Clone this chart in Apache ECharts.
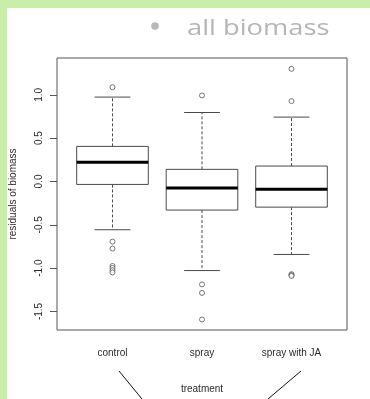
<!DOCTYPE html>
<html>
<head>
<meta charset="utf-8">
<script src="https://cdn.jsdelivr.net/npm/echarts@6/dist/echarts.min.js"></script>
<style>
html,body{margin:0;padding:0;background:#fff;}
#c{width:370px;height:399px;}
</style>
</head>
<body>
<div id="c"></div>
<script>
const categories = ['control', 'spray', 'spray with JA'];
const lowerWhisker = [-0.557, -1.028, -0.842];
const q1 = [-0.034, -0.330, -0.296];
const median = [0.223, -0.076, -0.091];
const q3 = [0.405, 0.140, 0.178];
const upperWhisker = [0.974, 0.796, 0.743];
const outliersControl = [1.088, -0.694, -0.774, -0.975, -0.998, -1.024, -1.050];
const outliersSpray = [0.993, -1.188, -1.286, -1.593];
const outliersJA = [1.300, 0.928, -1.070, -1.080, -1.090];
const yTicks = [-1.5, -1.0, -0.5, 0.0, 0.5, 1.0];
const xTicks = [1, 2, 3];

const boxData = categories.map((c, i) => [i + 1, lowerWhisker[i], q1[i], median[i], q3[i], upperWhisker[i]]);
const outlierData = [];
[outliersControl, outliersSpray, outliersJA].forEach((arr, i) => arr.forEach(v => outlierData.push([i + 1, v])));

const lineCol = '#4a4a4a';
const chart = echarts.init(document.getElementById('c'), null, {renderer: 'canvas'});
chart.setOption({
  animation: false,
  backgroundColor: '#ffffff',
  grid: {left: 57, top: 58, width: 290, height: 276, show: true, borderColor: '#555', borderWidth: 1, backgroundColor: 'transparent'},
  xAxis: {
    type: 'value', min: 0.38, max: 3.62,
    name: 'treatment', nameLocation: 'middle', nameGap: 54,
    nameTextStyle: {fontFamily: 'Liberation Sans', fontSize: 10, color: '#2a2a2a'},
    axisLine: {show: false},
    splitLine: {show: false},
    axisTick: {show: true, customValues: xTicks, length: 6, lineStyle: {color: '#555'}},
    axisLabel: {customValues: xTicks, margin: 18, fontFamily: 'Liberation Sans', fontSize: 10, color: '#2a2a2a',
      formatter: v => categories[Math.round(v) - 1] || ''}
  },
  yAxis: {
    type: 'value', min: -1.714, max: 1.425,
    name: 'residuals of biomass', nameLocation: 'middle', nameGap: 39,
    nameTextStyle: {fontFamily: 'Liberation Sans', fontSize: 10, color: '#2a2a2a'},
    axisLine: {show: false},
    splitLine: {show: false},
    axisTick: {show: true, customValues: yTicks, length: 7, lineStyle: {color: '#555'}},
    axisLabel: {customValues: yTicks, rotate: 90, margin: 13, fontFamily: 'Liberation Sans', fontSize: 10, color: '#2a2a2a',
      formatter: v => v.toFixed(1)}
  },
  series: [
    {
      type: 'custom',
      data: boxData,
      renderItem: function (params, api) {
        const x = api.value(0);
        const pLw = api.coord([x, api.value(1)]);
        const pQ1 = api.coord([x, api.value(2)]);
        const pMed = api.coord([x, api.value(3)]);
        const pQ3 = api.coord([x, api.value(4)]);
        const pUw = api.coord([x, api.value(5)]);
        const half = api.size([0.4, 0])[0];
        const capHalf = api.size([0.2, 0])[0];
        const cx = pMed[0];
        const st = {stroke: lineCol, lineWidth: 1, fill: null};
        const dash = {stroke: lineCol, lineWidth: 1, lineDash: [3, 2]};
        return {
          type: 'group',
          children: [
            {type: 'line', shape: {x1: cx, y1: pQ3[1], x2: cx, y2: pUw[1]}, style: dash},
            {type: 'line', shape: {x1: cx, y1: pQ1[1], x2: cx, y2: pLw[1]}, style: dash},
            {type: 'line', shape: {x1: cx - capHalf, y1: pUw[1], x2: cx + capHalf, y2: pUw[1]}, style: st},
            {type: 'line', shape: {x1: cx - capHalf, y1: pLw[1], x2: cx + capHalf, y2: pLw[1]}, style: st},
            {type: 'rect', shape: {x: cx - half, y: pQ3[1], width: half * 2, height: pQ1[1] - pQ3[1]}, style: {stroke: lineCol, lineWidth: 1, fill: '#fff'}},
            {type: 'line', shape: {x1: cx - half, y1: pMed[1], x2: cx + half, y2: pMed[1]}, style: {stroke: '#000', lineWidth: 3}}
          ]
        };
      }
    },
    {
      type: 'scatter',
      data: outlierData,
      symbol: 'circle',
      symbolSize: 5,
      itemStyle: {color: '#fff', borderColor: '#555', borderWidth: 1}
    }
  ],
  graphic: [
    {type: 'rect', shape: {x: 0, y: 0, width: 370, height: 8}, style: {fill: '#c9eeaa'}},
    {type: 'rect', shape: {x: 0, y: 0, width: 7, height: 399}, style: {fill: '#c9eeaa'}},
    {type: 'circle', shape: {cx: 155, cy: 26, r: 3.8}, style: {fill: '#b8b8b8'}},
    {type: 'text', x: 187, y: 29, scaleX: 1.24, style: {text: 'all biomass', fontFamily: 'Open Sans', fontSize: 22, fill: '#b5b5b5', align: 'left', verticalAlign: 'middle'}},
    {type: 'line', shape: {x1: 119, y1: 371, x2: 142, y2: 399}, style: {stroke: '#111', lineWidth: 1}},
    {type: 'line', shape: {x1: 301, y1: 371, x2: 268, y2: 399}, style: {stroke: '#111', lineWidth: 1}}
  ]
});
</script>
</body>
</html>
